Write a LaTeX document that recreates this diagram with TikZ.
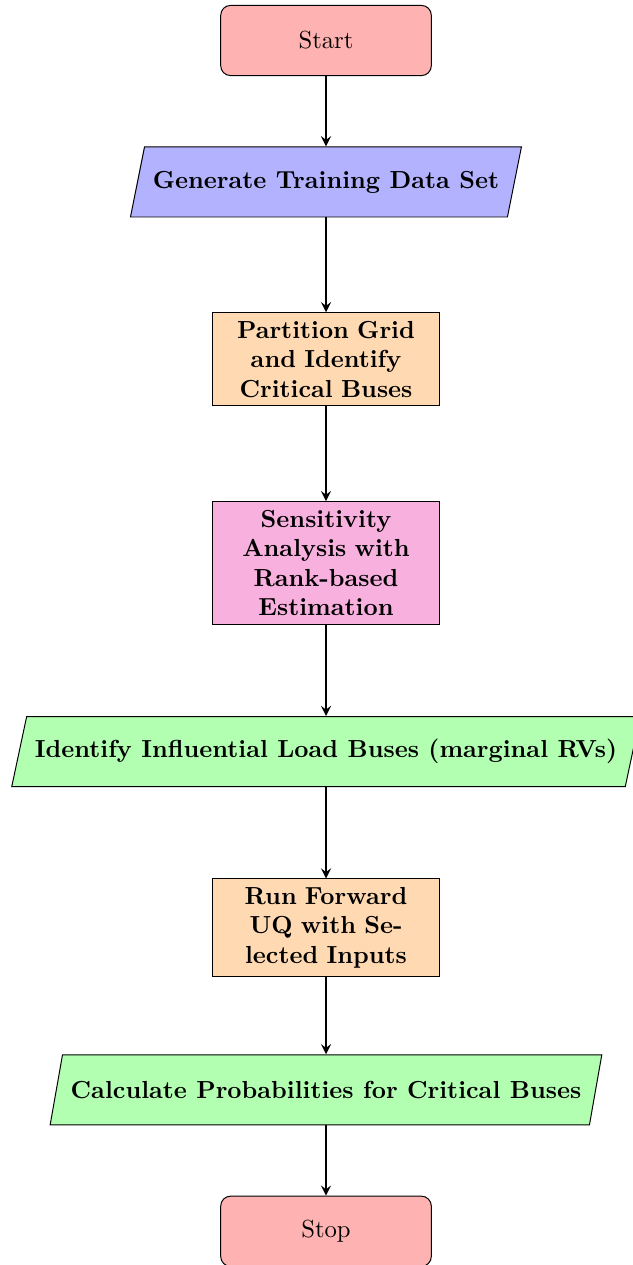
\documentclass[tikz,border=0pt]{standalone}
\usepackage{tikz}
\usetikzlibrary{positioning,shapes.geometric,arrows}
\definecolor{sensepink}{RGB}{248,176,222}
\tikzset{
  startstop/.style={
    draw,
    rectangle,
    rounded corners,
    minimum width=3cm,
    minimum height=1cm,
    align=center,
    fill=red!30
  },
  io/.style={
    draw,
    trapezium,
    trapezium left angle=70,
    trapezium right angle=110,
    trapezium stretches=true,
    minimum height=1cm,
    align=center,
    font=\bfseries
  },
  process/.style={
    draw,
    rectangle,
    minimum height=1cm,
    text width=3cm,
    align=center,
    font=\bfseries
  },
  flow/.style={thick,->,>=stealth}
}
\begin{document}
\begin{tikzpicture}

				\useasboundingbox (-4.644,0.577) rectangle (4.359,-17.443);

				\node[startstop                                ] (start) {Start};
				\node[io, fill=blue!30, below = 1cm of start   ] (gen) {Generate Training Data Set};
				\draw[flow] (start.south) -- (gen.north) ;

				\node[process, fill=orange!30, below = 1.35cm of gen] (part) {Partition Grid and Identify Critical Buses};
				\draw[flow] (gen.south) -- (part.north) ;

				\node[process, fill=sensepink, below = 1.35cm of part] (sens) {Sensitivity Analysis with Rank-based Estimation};
				\draw[flow] (part.south) -- (sens.north) ;

				\node[io, fill=green!30, below = 1.3cm of sens] (infl) {Identify Influential Load Buses (marginal RVs)};
				\draw[flow] (sens.south) -- (infl.north) ;

				\node[process, fill=orange!30, below = 1.3cm of infl] (fwd) {Run Forward UQ with Selected Inputs};
				\draw[flow] (infl.south) -- (fwd.north) ;

				\node[io, fill=green!30, below = 1.1cm of fwd] (calc) {Calculate Probabilities for Critical Buses};
				\draw[flow] (fwd.south) -- (calc.north) ;

				\node[startstop, below = 1cm of calc] (stop) {Stop};
				\draw[flow] (calc.south) -- (stop.north) ;

\end{tikzpicture}
\end{document}
